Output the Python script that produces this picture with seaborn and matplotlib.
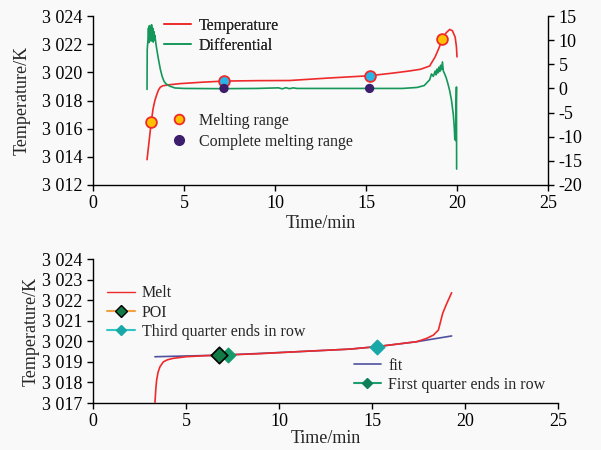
import matplotlib
matplotlib.use("Agg")
import matplotlib.pyplot as plt
import matplotlib.ticker as mticker
from matplotlib.lines import Line2D
import seaborn as sns

sns.set_theme(style="ticks")
plt.rcParams["font.family"] = ["Liberation Serif", "DejaVu Serif"]
plt.rcParams["axes.unicode_minus"] = False

# ---- top panel: temperature + differential ----
temp_t = [2.97, 3.1, 3.2, 3.3, 3.4, 3.5, 3.6, 3.7, 3.85, 4.2, 4.8, 6.0, 7.2, 9.0,
          10.8, 11.4, 13.0, 15.2, 16.5, 17.4, 18.0, 18.5, 18.8, 19.0, 19.2, 19.4,
          19.6, 19.75, 19.9, 19.97, 20.0]
temp_k = [3013.8, 3015.3, 3016.45, 3017.4, 3018.0, 3018.4, 3018.75, 3018.95, 3019.05,
          3019.12, 3019.2, 3019.3, 3019.38, 3019.41, 3019.42, 3019.47, 3019.6, 3019.76,
          3019.95, 3020.1, 3020.22, 3020.45, 3021.1, 3021.7, 3022.35, 3022.8, 3023.05,
          3022.95, 3022.5, 3021.8, 3021.1]

diff_t = [2.97, 2.98, 3.02, 3.05, 3.08, 3.1, 3.13, 3.16, 3.19, 3.22, 3.25, 3.28, 3.31,
          3.34, 3.37, 3.4, 3.45, 3.5, 3.6, 3.7, 3.8, 3.9, 4.0, 4.2, 4.5, 5.0, 7.0,
          9.0, 10.2, 10.4, 10.6, 10.8, 11.0, 11.2, 12.0, 14.0, 16.0, 17.0, 17.8, 18.2,
          18.5, 18.6, 18.7, 18.8, 18.85, 18.9, 18.95, 19.0, 19.05, 19.1, 19.15, 19.2,
          19.25, 19.3, 19.4, 19.5, 19.6, 19.7, 19.75, 19.8, 19.85, 19.88, 19.9, 19.92,
          19.97, 19.98]
diff_v = [-0.2, 8.0, 10.0, 12.5, 9.5, 13.0, 10.5, 12.8, 9.8, 13.2, 10.2, 12.5, 9.6,
          11.8, 10.0, 11.0, 9.5, 8.2, 6.0, 4.0, 2.5, 1.5, 1.0, 0.5, 0.1, 0.0, -0.05,
          0.0, 0.12, -0.08, 0.15, -0.05, 0.12, 0.0, 0.0, 0.0, 0.0, 0.0, 0.2, 0.6,
          1.8, 3.0, 2.5, 3.6, 2.8, 4.0, 3.2, 4.4, 3.5, 4.8, 3.9, 5.5,
          3.6, 3.2, 2.3, 1.0, -0.5, -2.5, -4.0, -5.5, -8.0, -10.5, -8.0, -10.8,
          0.3, -16.7]

melt_range_t = [3.2, 19.2]
melt_range_k = [3016.45, 3022.35]
mid_t = [7.2, 15.2]
mid_k = [3019.38, 3019.76]
complete_t = [7.2, 15.2]
complete_v = [0.0, 0.0]

# ---- bottom panel: melt + fit ----
melt_t = [3.33, 3.38, 3.42, 3.5, 3.6, 3.78, 4.0, 4.3, 5.0, 6.0, 7.0, 9.0, 11.1, 13.8,
          15.25, 17.4, 17.93, 18.3, 18.57, 18.8, 19.0, 19.28]
melt_k = [3017.0, 3017.7, 3018.1, 3018.5, 3018.76, 3019.0, 3019.1, 3019.17, 3019.25,
          3019.3, 3019.33, 3019.4, 3019.5, 3019.62, 3019.74, 3019.98, 3020.14, 3020.3,
          3020.55, 3021.36, 3021.8, 3022.36]
fit_t = [3.33, 7.0, 11.1, 13.8, 15.25, 17.4, 19.28]
fit_k = [3019.25, 3019.33, 3019.5, 3019.62, 3019.74, 3019.98, 3020.26]
poi_t, poi_k = [6.79], [3019.33]
first_q_t, first_q_k = [7.27], [3019.33]
third_q_t, third_q_k = [15.25], [3019.74]

RED = "#ee2a2a"
GREEN = "#16975a"
FS = 13
LFS = 11.5


def _kfmt(v, pos):
    v = int(round(v))
    return f"{v // 1000} {v % 1000:03d}"


fig = plt.figure(figsize=(6.01, 4.5), dpi=100)
fig.patch.set_facecolor("#f9f9f9")

ax1 = fig.add_axes([0.1547, 0.5889, 0.7571, 0.3755])
ax2 = ax1.twinx()
ax3 = fig.add_axes([0.1547, 0.1044, 0.7738, 0.32])

for ax in (ax1, ax2, ax3):
    ax.set_facecolor("none")
    ax.tick_params(labelsize=FS, direction="out", length=4, width=1, colors="black")
    for s in ax.spines.values():
        s.set_color("black")
        s.set_linewidth(1)

# top
sns.lineplot(x=temp_t, y=temp_k, ax=ax1, color=RED, lw=1.2, sort=False, zorder=3)
sns.lineplot(x=diff_t, y=diff_v, ax=ax2, color=GREEN, lw=1.2, sort=False, zorder=2)
ax1.scatter(melt_range_t, melt_range_k, s=60, c="#ffc000", edgecolors=RED,
            linewidths=1.3, zorder=5)
ax1.scatter(mid_t, mid_k, s=60, c="#2ab5e8", edgecolors=RED, linewidths=1.3, zorder=5)
ax2.scatter(complete_t, complete_v, s=45, c="#3d1e6d", edgecolors="none", zorder=5)

ax1.set_xlim(0, 25)
ax1.set_ylim(3012, 3024)
ax1.set_yticks(range(3012, 3025, 2))
ax1.yaxis.set_major_formatter(mticker.FuncFormatter(_kfmt))
ax1.set_xticks(range(0, 26, 5))
ax2.set_ylim(-20, 15)
ax2.set_yticks(range(-20, 16, 5))
ax1.spines["top"].set_visible(False)
ax2.spines["top"].set_visible(False)
ax1.spines["right"].set_visible(False)
ax2.spines["left"].set_visible(False)
ax2.spines["bottom"].set_visible(False)
ax1.set_xlabel("Time/min", fontsize=FS, labelpad=2)
ax1.set_ylabel("Temperature/K", fontsize=FS, labelpad=8)
ax2.set_ylabel("")

h1 = [Line2D([], [], color=RED, lw=1.2), Line2D([], [], color=GREEN, lw=1.2)]
leg1 = ax1.legend(h1, ["Temperature", "Differential"], loc="upper left",
                  bbox_to_anchor=(0.125, 1.076), frameon=False, fontsize=LFS,
                  handlelength=1.7, handletextpad=0.45, labelspacing=0.25)
h2 = [Line2D([], [], ls="none", marker="o", ms=7, mfc="#ffc000", mec=RED, mew=1.3),
      Line2D([], [], ls="none", marker="o", ms=7, mfc="#3d1e6d", mec="#3d1e6d")]
ax1.add_artist(leg1)
ax2.legend(h2, ["Melting range", "Complete melting range"], loc="upper left",
           bbox_to_anchor=(0.139, 0.512), frameon=False, fontsize=LFS,
           handlelength=1.0, labelspacing=0.3)

# bottom
sns.lineplot(x=melt_t, y=melt_k, ax=ax3, color=RED, lw=1.2, sort=False, zorder=3)
sns.lineplot(x=fit_t, y=fit_k, ax=ax3, color="#5050a0", lw=1.2, sort=False, zorder=2)
ax3.scatter(poi_t, poi_k, s=70, marker="D", c="#127a45", edgecolors="black",
            linewidths=1.2, zorder=6)
ax3.scatter(first_q_t, first_q_k, s=55, marker="D", c="#179a6a", edgecolors="#179a6a",
            zorder=5)
ax3.scatter(third_q_t, third_q_k, s=55, marker="D", c="#18a8a8", edgecolors="#18a8a8",
            zorder=5)
ax3.set_xlim(0, 25)
ax3.set_ylim(3017, 3024)
ax3.set_yticks(range(3017, 3025))
ax3.yaxis.set_major_formatter(mticker.FuncFormatter(_kfmt))
ax3.set_xticks(range(0, 26, 5))
ax3.spines["top"].set_visible(False)
ax3.spines["right"].set_visible(False)
ax3.set_xlabel("Time/min", fontsize=FS, labelpad=0)
ax3.set_ylabel("Temperature/K", fontsize=FS, labelpad=2)

h3 = [Line2D([], [], color=RED, lw=1.0),
      Line2D([], [], color="#f5a040", lw=1.5, marker="D", ms=6, mfc="#127a45", mec="black"),
      Line2D([], [], color="#33c4c4", lw=1.5, marker="D", ms=5, mfc="#18a8a8", mec="#18a8a8")]
leg3 = ax3.legend(h3, ["Melt", "POI", "Third quarter ends in row"], loc="upper left",
                  bbox_to_anchor=(0.0, 0.916), frameon=False, fontsize=LFS,
                  handlelength=1.7, handletextpad=0.45, labelspacing=0.2)
ax3.add_artist(leg3)
h4 = [Line2D([], [], color="#5050a0", lw=1.2),
      Line2D([], [], color="#1e9e6e", lw=1.5, marker="D", ms=5, mfc="#0f7f5a", mec="#0f7f5a")]
ax3.legend(h4, ["fit", "First quarter ends in row"], loc="upper left",
           bbox_to_anchor=(0.53, 0.414), frameon=False, fontsize=LFS,
           handlelength=1.7, handletextpad=0.45, labelspacing=0.2)

fig.savefig("out.png", dpi=100, facecolor=fig.get_facecolor())
